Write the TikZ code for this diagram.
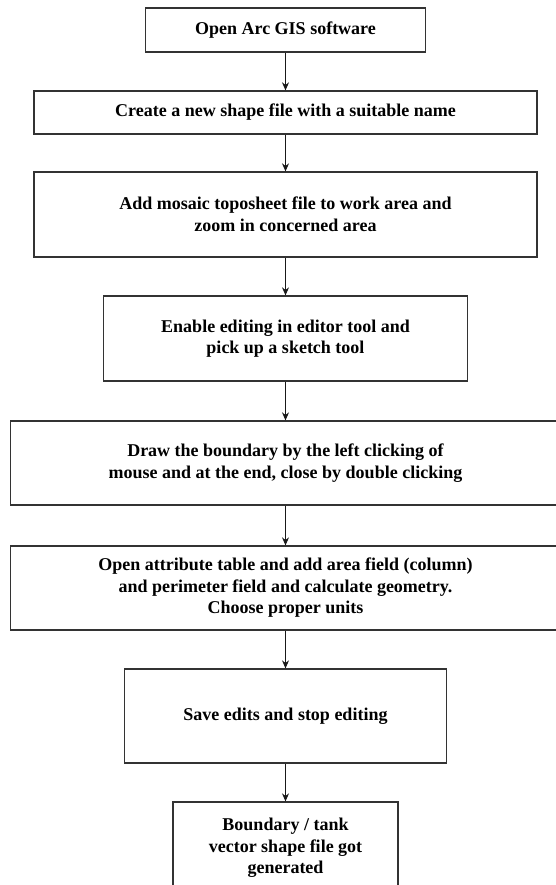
\documentclass[tikz,border=0pt]{standalone}
\usepackage{fontspec}
\setmainfont{Liberation Serif}
\usetikzlibrary{arrows.meta}
\begin{document}
\begin{tikzpicture}[x=1pt,y=1pt,
  box/.style={draw=black!80, line width=1.3pt, fill=white, inner sep=0pt, align=center,
    font=\bfseries\fontsize{18}{21.5}\selectfont},
  arr/.style={draw=black!90, line width=1.1pt, -{Stealth[length=8pt,width=7pt]}}]
\useasboundingbox (0,0) rectangle (556,-885);
\clip (0,0) rectangle (556,-885);
\fill[white] (0,0) rectangle (556,-885);
\node[box, minimum width=280, minimum height=44] (b1) at (285.5,-30) {Open Arc GIS software};
\node[box, minimum width=503, minimum height=43] (b2) at (285.5,-112.5) {Create a new shape file with a suitable name};
\node[box, minimum width=503, minimum height=85] (b3) at (285.5,-214.5) {Add mosaic toposheet file to work area and\\zoom in concerned area};
\node[box, minimum width=364, minimum height=85] (b4) at (285.5,-338.5) {Enable editing in editor tool and\\pick up a sketch tool};
\node[box, minimum width=550, minimum height=84] (b5) at (285.5,-463) {Draw the boundary by the left clicking of\\mouse and at the end, close by double clicking};
\node[box, minimum width=550, minimum height=84] (b6) at (285.5,-588) {Open attribute table and add area field (column)\\and perimeter field and calculate geometry.\\Choose proper units};
\node[box, minimum width=322, minimum height=94] (b7) at (285.5,-716) {Save edits and stop editing};
\node[box, minimum width=225, minimum height=92] (b8) at (285.5,-848) {Boundary / tank\\vector shape file got\\generated};
\draw[arr] (b1) -- (b2);
\draw[arr] (b2) -- (b3);
\draw[arr] (b3) -- (b4);
\draw[arr] (b4) -- (b5);
\draw[arr] (b5) -- (b6);
\draw[arr] (b6) -- (b7);
\draw[arr] (b7) -- (b8);
\end{tikzpicture}
\end{document}
